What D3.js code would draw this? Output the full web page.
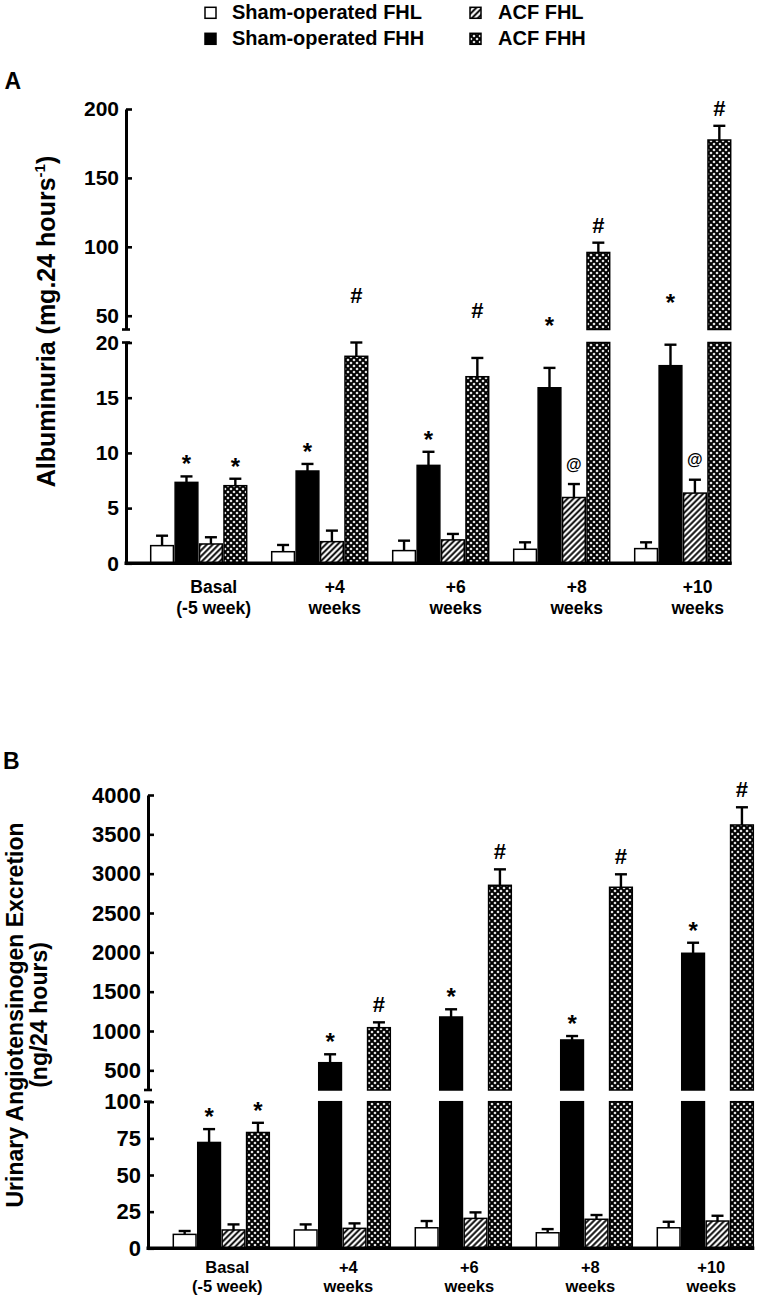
<!DOCTYPE html>
<html><head><meta charset="utf-8">
<script src="https://cdn.jsdelivr.net/npm/d3@7"></script>
<style>
body{margin:0;background:#fff}
svg text{font-family:"Liberation Sans",Arial,Helvetica,sans-serif;font-weight:bold;fill:#000}
</style>
</head><body>
<svg id="chart" width="759" height="1300"></svg>
<script>
// ---------- DATA ----------
const seriesNames = ["Sham-operated FHL", "Sham-operated FHH", "ACF FHL", "ACF FHH"];
const catLine1 = ["Basal", "+4", "+6", "+8", "+10"];
const catLine2 = ["(-5 week)", "weeks", "weeks", "weeks", "weeks"];

// Panel A: Albuminuria (mg.24 hours-1)
const shamFHL_A = [1.6, 1.05, 1.15, 1.27, 1.33];
const shamFHH_A = [7.33, 8.36, 8.87, 15.9, 17.9];
const acfFHL_A  = [1.75, 1.96, 2.12, 5.96, 6.36];
const acfFHH_A  = [7.03, 18.75, 16.9, 95.9, 177.5];
const shamFHL_A_err = [0.9, 0.61, 0.9, 0.63, 0.57];
const shamFHH_A_err = [0.54, 0.64, 1.23, 1.8, 1.9];
const acfFHL_A_err  = [0.61, 1.0, 0.54, 1.22, 1.21];
const acfFHH_A_err  = [0.63, 1.25, 1.7, 7.1, 10.3];
const shamFHL_A_sig = ["", "", "", "", ""];
const shamFHH_A_sig = ["*", "*", "*", "*", "*"];
const acfFHL_A_sig  = ["", "", "", "@", "@"];
const acfFHH_A_sig  = ["*", "#", "#", "#", "#"];
const ticksA_bottom = [0, 5, 10, 15, 20];
const ticksA_top    = [50, 100, 150, 200];
const breakA = [20, 40, 200]; // bottom segment max, top segment min, top segment max

// Panel B: Urinary Angiotensinogen Excretion (ng/24 hours)
const shamFHL_B = [9.5, 12.5, 14.0, 10.6, 14.0];
const shamFHH_B = [72.2, 597, 1178, 886, 1988];
const acfFHL_B  = [12.5, 13.6, 20.4, 19.8, 18.6];
const acfFHH_B  = [79, 1042, 2852, 2827, 3619];
const shamFHL_B_err = [2.3, 3.8, 4.6, 2.5, 4.1];
const shamFHH_B_err = [9.1, 107, 98, 50, 134];
const acfFHL_B_err  = [3.8, 3.4, 4.1, 2.9, 3.6];
const acfFHH_B_err  = [6.6, 68, 203, 165, 225];
const shamFHL_B_sig = ["", "", "", "", ""];
const shamFHH_B_sig = ["*", "*", "*", "*", "*"];
const acfFHL_B_sig  = ["", "", "", "", ""];
const acfFHH_B_sig  = ["*", "#", "#", "#", "#"];
const ticksB_bottom = [0, 25, 50, 75, 100];
const ticksB_top    = [500, 1000, 1500, 2000, 2500, 3000, 3500, 4000];
const breakB = [100, 250, 4000];

// ---------- DRAW ----------
const svg = d3.select("#chart");
const defs = svg.append("defs");

// hatch "////"
const hatch = defs.append("pattern").attr("id", "hatch")
  .attr("patternUnits", "userSpaceOnUse").attr("width", 4.2).attr("height", 4.2)
  .attr("patternTransform", "rotate(45)");
hatch.append("rect").attr("width", 4.2).attr("height", 4.2).attr("fill", "#fff");
hatch.append("line").attr("x1", 2.1).attr("y1", 0).attr("x2", 2.1).attr("y2", 4.2)
  .attr("stroke", "#000").attr("stroke-width", 1.9);

// cross-hatch with white diamonds
const cross = defs.append("pattern").attr("id", "cross")
  .attr("patternUnits", "userSpaceOnUse").attr("width", 6).attr("height", 6);
cross.append("rect").attr("width", 6).attr("height", 6).attr("fill", "#000");
const dr = 1.55;
[[3, 3], [0, 0], [6, 0], [0, 6], [6, 6]].forEach(([cx, cy]) => {
  cross.append("path")
    .attr("d", `M${cx},${cy - dr}L${cx + dr},${cy}L${cx},${cy + dr}L${cx - dr},${cy}Z`)
    .attr("fill", "#fff");
});

const fills = ["#fff", "#000", "url(#hatch)", "url(#cross)"];

// Legend
const legendPos = [[205, 7.3, 232, 19], [205, 33.3, 232, 44.8], [470, 7.3, 498, 19], [470, 33.3, 498, 44.8]];
seriesNames.forEach((name, i) => {
  const [rx, ry, tx, ty] = legendPos[i];
  svg.append("rect").attr("x", rx).attr("y", ry).attr("width", 11).attr("height", 11)
    .attr("fill", fills[i]).attr("stroke", "#000").attr("stroke-width", 1.5);
  svg.append("text").attr("x", tx).attr("y", ty).attr("font-size", 20).text(name);
});

function drawPanel(cfg) {
  const g = svg.append("g");
  const [botMax, topMin, topMax] = cfg.brk;
  const yBot = d3.scaleLinear().domain([0, botMax]).range([cfg.yBase, cfg.yBotTop]);
  const yTop = d3.scaleLinear().domain([topMin, topMax]).range([cfg.yTopBot, cfg.yTopTop]);
  const yv = v => v <= botMax ? yBot(v) : yTop(v);

  const x0 = d3.scaleBand().domain(catLine1).range([cfg.bandStart, cfg.bandEnd])
    .paddingInner(0.2066).paddingOuter(0);
  const x1 = d3.scaleBand().domain(d3.range(4)).range([0, x0.bandwidth()]).paddingInner(0.07);

  // bars
  cfg.means.forEach((vals, s) => {
    vals.forEach((v, c) => {
      const bx = x0(catLine1[c]) + x1(s), bw = x1.bandwidth();
      const pieces = v <= botMax ? [[yBot(0), yBot(v)]] : [[yBot(0), yBot(botMax)], [yTop(topMin), yTop(v)]];
      pieces.forEach(([yb, yt]) => {
        g.append("rect").attr("x", bx).attr("y", yt).attr("width", bw).attr("height", yb - yt)
          .attr("fill", fills[s]).attr("stroke", "#000").attr("stroke-width", 1.5);
      });
      // error bar (upper only)
      const e = cfg.errs[s][c];
      const yt = yv(v), ye = yv(v + e), cx = bx + bw / 2;
      g.append("line").attr("x1", cx).attr("x2", cx).attr("y1", yt).attr("y2", ye)
        .attr("stroke", "#000").attr("stroke-width", 2.4);
      g.append("line").attr("x1", cx - 6).attr("x2", cx + 6).attr("y1", ye).attr("y2", ye)
        .attr("stroke", "#000").attr("stroke-width", 2.4);
      // significance marks
      const sym = cfg.sigs[s][c];
      if (sym) {
        const size = sym === "@" ? 16 : (sym === "*" ? 24 : 22);
        let shift = sym === "*" ? 4 : (sym === "#" ? 10 : 14.5);
        // marks for tall bars near the axis break sit higher (above the break level)
        if (cfg.raiseAbove !== undefined && v + e <= botMax && v + e > cfg.raiseAbove) shift += 30;
        g.append("text").attr("x", cx).attr("y", ye - shift).attr("text-anchor", "middle")
          .attr("font-size", size).text(sym);
      }
    });
  });

  // y axes (two segments), ticks pointing inward
  const fmt = d3.format("d");
  const axBot = d3.axisLeft(yBot).tickValues(cfg.ticksBot).tickFormat(fmt).tickSizeInner(-6).tickSizeOuter(0).tickPadding(7);
  const axTop = d3.axisLeft(yTop).tickValues(cfg.ticksTop).tickFormat(fmt).tickSizeInner(-6).tickSizeOuter(0).tickPadding(7);
  [axBot, axTop].forEach(ax => {
    const a = g.append("g").attr("transform", `translate(${cfg.axisX},0)`).call(ax);
    a.select(".domain").attr("stroke", "#000").attr("stroke-width", 3);
    a.selectAll(".tick line").attr("stroke", "#000").attr("stroke-width", 2.6);
    a.selectAll(".tick text").attr("font-size", cfg.tickFont).attr("fill", "#000")
      .style("font-family", '"Liberation Sans",Arial,sans-serif').style("font-weight", "bold");
  });
  // break caps
  [cfg.yTopBot, cfg.yBotTop].forEach(yy => {
    g.append("line").attr("x1", cfg.axisX - 4).attr("x2", cfg.axisX + 4).attr("y1", yy).attr("y2", yy)
      .attr("stroke", "#000").attr("stroke-width", 2.6);
  });
  // baseline
  g.append("line").attr("x1", cfg.axisX - 1.5).attr("x2", cfg.bandEnd + 1).attr("y1", cfg.yBase).attr("y2", cfg.yBase)
    .attr("stroke", "#000").attr("stroke-width", 3.4);

  // category labels
  catLine1.forEach((c, i) => {
    const cx = x0(c) + x0.bandwidth() / 2 + cfg.labelDx;
    g.append("text").attr("x", cx).attr("y", cfg.labelY1).attr("text-anchor", "middle")
      .attr("font-size", cfg.labelFont).text(c);
    g.append("text").attr("x", cx).attr("y", cfg.labelY2).attr("text-anchor", "middle")
      .attr("font-size", cfg.labelFont).text(catLine2[i]);
  });

  // panel letter
  g.append("text").attr("x", cfg.letterX).attr("y", cfg.letterY).attr("font-size", 23).text(cfg.letter);
}

drawPanel({
  letter: "A", letterX: 4.5, letterY: 88.5,
  means: [shamFHL_A, shamFHH_A, acfFHL_A, acfFHH_A],
  errs: [shamFHL_A_err, shamFHH_A_err, acfFHL_A_err, acfFHH_A_err],
  sigs: [shamFHL_A_sig, shamFHH_A_sig, acfFHL_A_sig, acfFHH_A_sig],
  ticksBot: ticksA_bottom, ticksTop: ticksA_top, brk: breakA, raiseAbove: 15,
  axisX: 126, bandStart: 150.7, bandEnd: 730.7,
  yBase: 563.3, yBotTop: 342.5, yTopBot: 329.5, yTopTop: 109,
  tickFont: 21, labelFont: 17.5, labelDx: 15, labelY1: 592.5, labelY2: 613.5
});

drawPanel({
  letter: "B", letterX: 3, letterY: 768.5,
  means: [shamFHL_B, shamFHH_B, acfFHL_B, acfFHH_B],
  errs: [shamFHL_B_err, shamFHH_B_err, acfFHL_B_err, acfFHH_B_err],
  sigs: [shamFHL_B_sig, shamFHH_B_sig, acfFHL_B_sig, acfFHH_B_sig],
  ticksBot: ticksB_bottom, ticksTop: ticksB_top, brk: breakB,
  axisX: 148, bandStart: 173.3, bandEnd: 753.3,
  yBase: 1248.3, yBotTop: 1101.7, yTopBot: 1090, yTopTop: 795,
  tickFont: 22, labelFont: 16.5, labelDx: 6, labelY1: 1272.5, labelY2: 1292
});

// y-axis titles
const tA = svg.append("text").attr("transform", "translate(55,321.5) rotate(-90)")
  .attr("text-anchor", "middle").attr("font-size", 25);
tA.append("tspan").text("Albuminuria (mg.24 hours");
tA.append("tspan").attr("font-size", 15).attr("dy", -10).text("-1");
tA.append("tspan").attr("dy", 10).text(")");

svg.append("text").attr("transform", "translate(23,1015) rotate(-90)")
  .attr("text-anchor", "middle").attr("font-size", 23).text("Urinary Angiotensinogen Excretion");
svg.append("text").attr("transform", "translate(47,1015) rotate(-90)")
  .attr("text-anchor", "middle").attr("font-size", 23).text("(ng/24 hours)");
</script>
</body></html>
